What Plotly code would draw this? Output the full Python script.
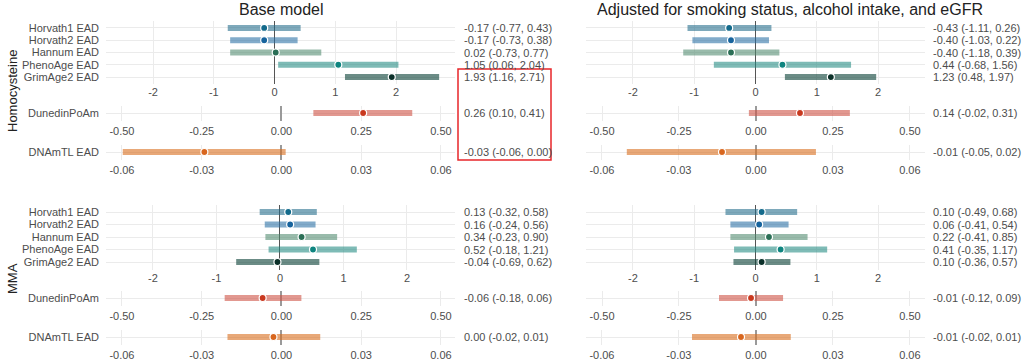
import plotly.graph_objects as go

W, H = 1024, 361
FONT = "Liberation Sans, Arial, sans-serif"

# ---------------- data ----------------
model_titles = ["Base model", "Adjusted for smoking status, alcohol intake, and eGFR"]
outcome_names = ["Homocysteine", "MMA"]
clock_names = ["Horvath1 EAD", "Horvath2 EAD", "Hannum EAD", "PhenoAge EAD", "GrimAge2 EAD"]
pace_name = "DunedinPoAm"
tl_name = "DNAmTL EAD"

clock_ticks = [-2, -1, 0, 1, 2]
clock_ticktext = ["-2", "-1", "0", "1", "2"]
pace_ticks = [-0.5, -0.25, 0, 0.25, 0.5]
pace_ticktext = ["-0.50", "-0.25", "0.00", "0.25", "0.50"]
tl_ticks = [-0.06, -0.03, 0, 0.03, 0.06]
tl_ticktext = ["-0.06", "-0.03", "0.00", "0.03", "0.06"]

# Homocysteine, base model
hcy_base_clock_est = [-0.17, -0.17, 0.02, 1.05, 1.93]
hcy_base_clock_lo = [-0.77, -0.73, -0.73, 0.06, 1.16]
hcy_base_clock_hi = [0.43, 0.38, 0.77, 2.04, 2.71]
hcy_base_clock_lab = ["-0.17 (-0.77, 0.43)", "-0.17 (-0.73, 0.38)", "0.02 (-0.73, 0.77)",
                      "1.05 (0.06, 2.04)", "1.93 (1.16, 2.71)"]
hcy_base_pace = [0.256, 0.10, 0.41]
hcy_base_pace_lab = "0.26 (0.10, 0.41)"
hcy_base_tl = [-0.029, -0.0597, 0.0016]
hcy_base_tl_lab = "-0.03 (-0.06, 0.00)"

# Homocysteine, adjusted model
hcy_adj_clock_est = [-0.43, -0.40, -0.40, 0.44, 1.23]
hcy_adj_clock_lo = [-1.11, -1.03, -1.18, -0.68, 0.48]
hcy_adj_clock_hi = [0.26, 0.22, 0.39, 1.56, 1.97]
hcy_adj_clock_lab = ["-0.43 (-1.11, 0.26)", "-0.40 (-1.03, 0.22)", "-0.40 (-1.18, 0.39)",
                     "0.44 (-0.68, 1.56)", "1.23 (0.48, 1.97)"]
hcy_adj_pace = [0.143, -0.023, 0.305]
hcy_adj_pace_lab = "0.14 (-0.02, 0.31)"
hcy_adj_tl = [-0.0132, -0.0503, 0.0234]
hcy_adj_tl_lab = "-0.01 (-0.05, 0.02)"

# MMA, base model
mma_base_clock_est = [0.13, 0.16, 0.34, 0.52, -0.04]
mma_base_clock_lo = [-0.32, -0.24, -0.23, -0.18, -0.69]
mma_base_clock_hi = [0.58, 0.56, 0.90, 1.21, 0.62]
mma_base_clock_lab = ["0.13 (-0.32, 0.58)", "0.16 (-0.24, 0.56)", "0.34 (-0.23, 0.90)",
                      "0.52 (-0.18, 1.21)", "-0.04 (-0.69, 0.62)"]
mma_base_pace = [-0.059, -0.178, 0.0625]
mma_base_pace_lab = "-0.06 (-0.18, 0.06)"
mma_base_tl = [-0.003, -0.0203, 0.0146]
mma_base_tl_lab = "0.00 (-0.02, 0.01)"

# MMA, adjusted model
mma_adj_clock_est = [0.10, 0.06, 0.22, 0.41, 0.10]
mma_adj_clock_lo = [-0.49, -0.41, -0.41, -0.35, -0.36]
mma_adj_clock_hi = [0.68, 0.54, 0.85, 1.17, 0.57]
mma_adj_clock_lab = ["0.10 (-0.49, 0.68)", "0.06 (-0.41, 0.54)", "0.22 (-0.41, 0.85)",
                     "0.41 (-0.35, 1.17)", "0.10 (-0.36, 0.57)"]
mma_adj_pace = [-0.016, -0.12, 0.088]
mma_adj_pace_lab = "-0.01 (-0.12, 0.09)"
mma_adj_tl = [-0.0058, -0.0249, 0.0136]
mma_adj_tl_lab = "-0.01 (-0.02, 0.01)"

# ---------------- styles ----------------
clock_dot_colors = ["#136a8b", "#17649d", "#2b6f56", "#0f8580", "#0b3029"]
clock_bar_colors = ["rgba(33,107,137,0.58)", "rgba(40,110,163,0.58)", "rgba(79,138,110,0.58)",
                    "rgba(33,137,130,0.58)", "rgba(8,63,53,0.6)"]
pace_dot_color = "#c9391f"
pace_bar_color = "rgba(207,83,70,0.6)"
tl_dot_color = "#d8661e"
tl_bar_color = "rgba(217,110,30,0.6)"

GRID = "#ebebeb"
TXT = "#4d4d4d"


def xdom(l, r):
    return [l / W, r / W]


def ydom(top, bottom):
    return [1 - bottom / H, 1 - top / H]


col_x = [(106, 455), (586, 925)]
label_x = [462, 931]
# y pixel domains per outcome: clock, pace, tl
row_y = [
    [(20.6, 84.4), (105.5, 120.5), (144.5, 159.5)],
    [(204.5, 269.5), (290.5, 305.5), (329.5, 344.5)],
]
clock_ranges = [[[-2.774, 2.971], [-2.767, 2.767]], [[-2.74, 2.756], [-2.767, 2.767]]]
pace_ranges = [[-0.550, 0.544], [-0.552, 0.549]]
tl_ranges = [[-0.066, 0.0653], [-0.0662, 0.0659]]

panels = {
    (0, 0): (hcy_base_clock_est, hcy_base_clock_lo, hcy_base_clock_hi, hcy_base_clock_lab,
             hcy_base_pace, hcy_base_pace_lab, hcy_base_tl, hcy_base_tl_lab),
    (0, 1): (hcy_adj_clock_est, hcy_adj_clock_lo, hcy_adj_clock_hi, hcy_adj_clock_lab,
             hcy_adj_pace, hcy_adj_pace_lab, hcy_adj_tl, hcy_adj_tl_lab),
    (1, 0): (mma_base_clock_est, mma_base_clock_lo, mma_base_clock_hi, mma_base_clock_lab,
             mma_base_pace, mma_base_pace_lab, mma_base_tl, mma_base_tl_lab),
    (1, 1): (mma_adj_clock_est, mma_adj_clock_lo, mma_adj_clock_hi, mma_adj_clock_lab,
             mma_adj_pace, mma_adj_pace_lab, mma_adj_tl, mma_adj_tl_lab),
}

fig = go.Figure()
layout = {}
annotations = []
shapes = []
axis_n = 0


def add_strip(o, m, kind, names, est, lo, hi, labels, bar_colors, dot_colors, xrange, ticks, ticktext):
    global axis_n
    axis_n += 1
    sfx = "" if axis_n == 1 else str(axis_n)
    xa, ya = "x" + sfx, "y" + sfx
    ytop, ybot = row_y[o][kind]
    n = len(names)
    pos = list(range(n))
    layout["xaxis" + sfx] = dict(
        domain=xdom(*col_x[m]), anchor=ya, range=xrange, automargin=False,
        tickmode="array", tickvals=ticks, ticktext=ticktext,
        ticklabelstandoff=0 if kind == 0 else 2,
        showgrid=True, gridcolor=GRID, gridwidth=1,
        zeroline=True,
        zerolinecolor="#555555" if kind == 0 else "#9a9a9a",
        zerolinewidth=1 if kind == 0 else 2,
        showline=False, ticks="", tickfont=dict(size=11, color=TXT, family=FONT),
        fixedrange=True,
    )
    layout["yaxis" + sfx] = dict(
        domain=ydom(ytop, ybot), anchor=xa, range=[n - 0.4, -0.6], automargin=False,
        tickmode="array", tickvals=pos, ticktext=names, ticklabelstandoff=6,
        showticklabels=(m == 0),
        showgrid=True, gridcolor=GRID, gridwidth=1, zeroline=False,
        showline=False, ticks="", tickfont=dict(size=11, color=TXT, family=FONT),
        fixedrange=True,
    )
    for i in range(n):
        fig.add_trace(go.Scatter(
            x=[lo[i], hi[i]], y=[i, i], xaxis=xa, yaxis=ya, mode="lines",
            line=dict(color=bar_colors[i], width=6), hoverinfo="skip", showlegend=False))
    fig.add_trace(go.Scatter(
        x=est, y=pos, xaxis=xa, yaxis=ya, mode="markers",
        marker=dict(color=dot_colors, size=7, line=dict(color="white", width=1.2)),
        showlegend=False))
    for i in range(n):
        annotations.append(dict(
            x=label_x[m] / W, xref="paper", y=i, yref=ya, text=labels[i],
            xanchor="left", yanchor="middle", showarrow=False,
            font=dict(size=11, color=TXT, family=FONT)))


for (o, m), p in panels.items():
    c_est, c_lo, c_hi, c_lab, pace, pace_lab, tl, tl_lab = p
    add_strip(o, m, 0, clock_names, c_est, c_lo, c_hi, c_lab,
              clock_bar_colors, clock_dot_colors, clock_ranges[o][m], clock_ticks, clock_ticktext)
    add_strip(o, m, 1, [pace_name], [pace[0]], [pace[1]], [pace[2]], [pace_lab],
              [pace_bar_color], [pace_dot_color], pace_ranges[m], pace_ticks, pace_ticktext)
    add_strip(o, m, 2, [tl_name], [tl[0]], [tl[1]], [tl[2]], [tl_lab],
              [tl_bar_color], [tl_dot_color], tl_ranges[m], tl_ticks, tl_ticktext)

# panel titles
title_x = [281, 790]
for m, t in enumerate(model_titles):
    annotations.append(dict(x=title_x[m] / W, y=1 - 10 / H, xref="paper", yref="paper",
                            text=t, showarrow=False, xanchor="center", yanchor="middle",
                            font=dict(size=16, color="#222222", family=FONT)))
# outcome titles
outcome_y = [91, 279]
for o, t in enumerate(outcome_names):
    annotations.append(dict(x=12 / W, y=1 - outcome_y[o] / H, xref="paper", yref="paper",
                            text=t, showarrow=False, textangle=-90, xanchor="center",
                            yanchor="middle", font=dict(size=13, color="#222222", family=FONT)))

# red highlight box
shapes.append(dict(type="rect", xref="paper", yref="paper",
                   x0=458 / W, x1=551 / W, y0=1 - 160 / H, y1=1 - 69 / H,
                   line=dict(color="#e8262a", width=1.5), fillcolor="rgba(0,0,0,0)"))

fig.update_layout(
    width=W, height=H, margin=dict(l=0, r=0, t=0, b=0, autoexpand=False),
    paper_bgcolor="white", plot_bgcolor="white",
    font=dict(family=FONT, size=11, color=TXT),
    annotations=annotations, shapes=shapes, showlegend=False, hovermode=False,
    **layout,
)
fig.write_html(
    "out.html",
    config={"displayModeBar": False},
    post_script="document.body.style.margin='0';document.body.style.overflow='hidden';",
)
